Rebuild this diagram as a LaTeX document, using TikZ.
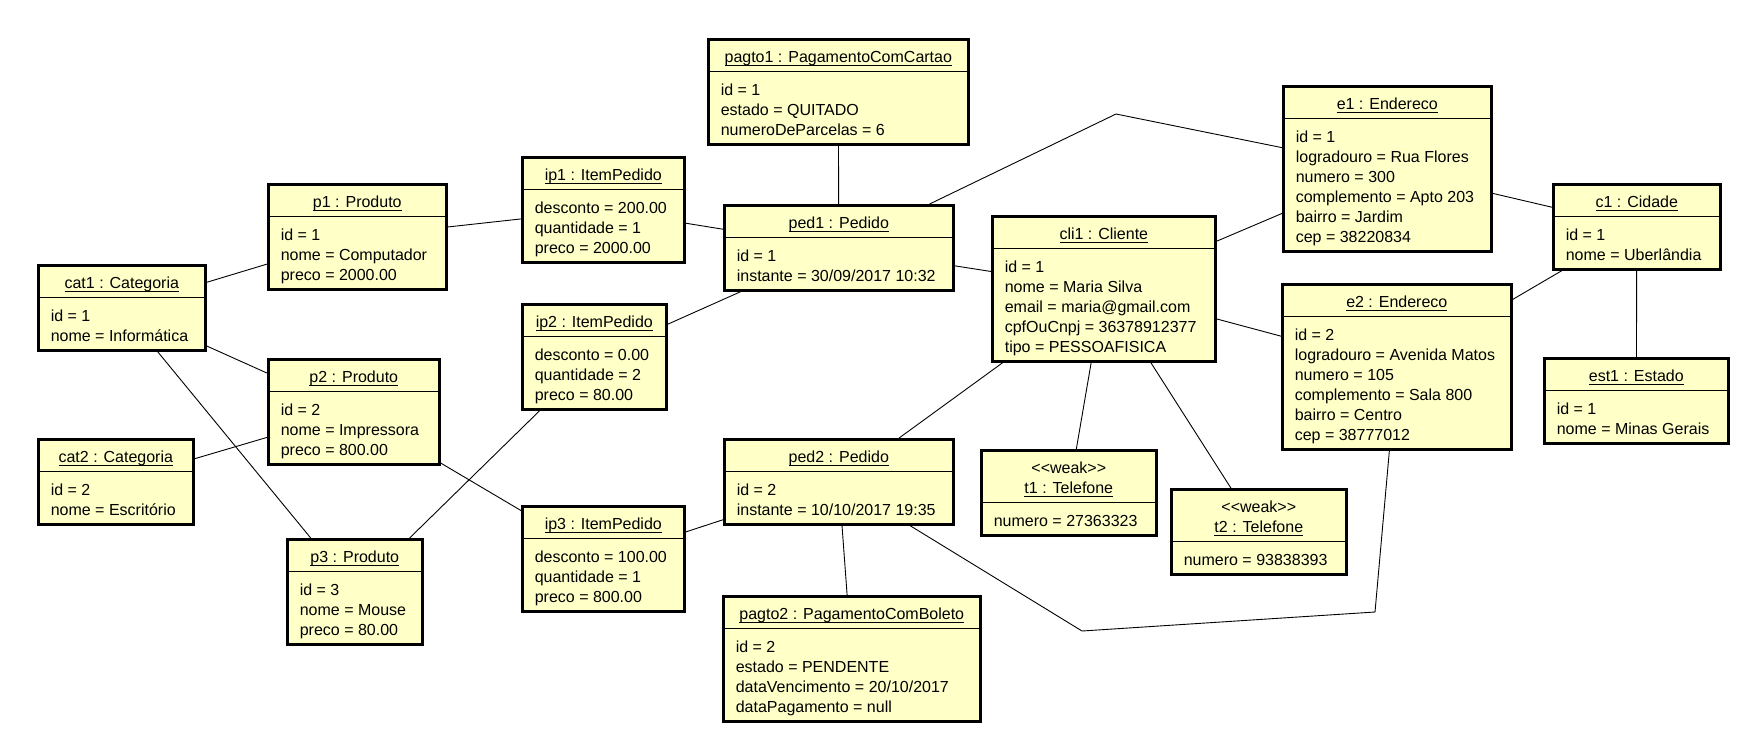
\documentclass[tikz,border=0pt]{standalone}
\usepackage{fontspec}
\setmainfont{Liberation Sans}
\usepackage{xcolor}
\usepackage{tikz}
\usetikzlibrary{shapes.multipart}

\definecolor{objfill}{RGB}{255,255,200}
\newcommand\uname[1]{\strut\setbox0\hbox{#1}\raisebox{-3pt}[0pt][0pt]{\rlap{\rule[-3pt]{\wd0}{1pt}}\box0}}
\newcommand\attrs[1]{\raisebox{-3pt}[\height][\depth]{\begin{tabular}{@{}l@{}}#1\end{tabular}}}
\newcommand\weakhead[1]{\raisebox{-3pt}[\height][\depth]{\begin{tabular}{@{}c@{}}<{}<weak>{}>\\\setbox0\hbox{#1}\rlap{\rule[-3pt]{\wd0}{1pt}}\box0\end{tabular}}}

\begin{document}
\begin{tikzpicture}[
    x=1pt, y=-1pt,
    every node/.style={font=\fontsize{16}{20}\selectfont},
    obj/.style={rectangle split, rectangle split parts=2,
      rectangle split part align={center,left},
      rectangle split draw splits=false,
      draw, line width=2.6pt, fill=objfill,
      inner xsep=12.5pt, inner ysep=5pt, anchor=north west},
    sep/.style={line width=0.9pt},
    link/.style={line width=0.9pt},
  ]
  \useasboundingbox (0,0) rectangle (1763,753);

  % Categorias e produtos
  \node[obj, minimum width=167] (cat1) at (37,264) {\uname{cat1 : Categoria}\nodepart{two}\attrs{id = 1\\nome = Informática}};
  \node[obj, minimum width=155] (cat2) at (37,438) {\uname{cat2 : Categoria}\nodepart{two}\attrs{id = 2\\nome = Escritório}};
  \node[obj, minimum width=178] (p1) at (267,183) {\uname{p1 : Produto}\nodepart{two}\attrs{id = 1\\nome = Computador\\preco = 2000.00}};
  \node[obj, minimum width=171] (p2) at (267,358) {\uname{p2 : Produto}\nodepart{two}\attrs{id = 2\\nome = Impressora\\preco = 800.00}};
  \node[obj, minimum width=135] (p3) at (286,538) {\uname{p3 : Produto}\nodepart{two}\attrs{id = 3\\nome = Mouse\\preco = 80.00}};

  % Itens
  \node[obj, minimum width=162] (ip1) at (521,156) {\uname{ip1 : ItemPedido}\nodepart{two}\attrs{desconto = 200.00\\quantidade = 1\\preco = 2000.00}};
  \node[obj, minimum width=144] (ip2) at (521,303) {\uname{ip2 : ItemPedido}\nodepart{two}\attrs{desconto = 0.00\\quantidade = 2\\preco = 80.00}};
  \node[obj, minimum width=162] (ip3) at (521,505) {\uname{ip3 : ItemPedido}\nodepart{two}\attrs{desconto = 100.00\\quantidade = 1\\preco = 800.00}};

  % Pedidos e pagamentos
  \node[obj, minimum width=260] (pagto1) at (707,38) {\uname{pagto1 : PagamentoComCartao}\nodepart{two}\attrs{id = 1\\estado = QUITADO\\numeroDeParcelas = 6}};
  \node[obj, minimum width=229] (ped1) at (723,204) {\uname{ped1 : Pedido}\nodepart{two}\attrs{id = 1\\instante = 30/09/2017 10:32}};
  \node[obj, minimum width=229] (ped2) at (723,438) {\uname{ped2 : Pedido}\nodepart{two}\attrs{id = 2\\instante = 10/10/2017 19:35}};
  \node[obj, minimum width=257] (pagto2) at (722,595) {\uname{pagto2 : PagamentoComBoleto}\nodepart{two}\attrs{id = 2\\estado = PENDENTE\\dataVencimento = 20/10/2017\\dataPagamento = null}};

  % Cliente, telefones, enderecos
  \node[obj, minimum width=223] (cli1) at (991,215) {\uname{cli1 : Cliente}\nodepart{two}\attrs{id = 1\\nome = Maria Silva\\email = maria@gmail.com\\cpfOuCnpj = 36378912377\\tipo = PESSOAFISICA}};
  \node[obj, minimum width=175] (t1) at (980,449) {\weakhead{t1 : Telefone}\nodepart{two}\attrs{numero = 27363323}};
  \node[obj, minimum width=175] (t2) at (1170,488) {\weakhead{t2 : Telefone}\nodepart{two}\attrs{numero = 93838393}};
  \node[obj, minimum width=208] (e1) at (1282,85) {\uname{e1 : Endereco}\nodepart{two}\attrs{id = 1\\logradouro = Rua Flores\\numero = 300\\complemento = Apto 203\\bairro = Jardim\\cep = 38220834}};
  \node[obj, minimum width=229] (e2) at (1281,283) {\uname{e2 : Endereco}\nodepart{two}\attrs{id = 2\\logradouro = Avenida Matos\\numero = 105\\complemento = Sala 800\\bairro = Centro\\cep = 38777012}};
  \node[obj, minimum width=167] (c1) at (1552,183) {\uname{c1 : Cidade}\nodepart{two}\attrs{id = 1\\nome = Uberlândia}};
  \node[obj, minimum width=184] (est1) at (1543,357) {\uname{est1 : Estado}\nodepart{two}\attrs{id = 1\\nome = Minas Gerais}};

  % header separators
  \foreach \n in {cat1,cat2,p1,p2,p3,ip1,ip2,ip3,pagto1,ped1,ped2,pagto2,cli1,t1,t2,e1,e2,c1,est1}
    \draw[sep] (\n.text split west) -- (\n.text split east);

  % links
  \foreach \a/\b in {cat1/p1, cat1/p2, cat1/p3, cat2/p2, p1/ip1, p2/ip3, p3/ip2,
      ip1/ped1, ip2/ped1, ip3/ped2, pagto1/ped1, ped2/pagto2, ped1/cli1, ped2/cli1,
      cli1/e1, cli1/e2, cli1/t1, cli1/t2, e1/c1, e2/c1, c1/est1}
    \draw[link] (\a) -- (\b);

  % bent links
  \coordinate (b1) at (1116,114);
  \coordinate (b2) at (1082,631);
  \coordinate (b3) at (1375,612);
  \draw[link] (ped1) -- (b1) -- (e1);
  \draw[link] (ped2) -- (b2) -- (b3) -- (e2);
\end{tikzpicture}
\end{document}
